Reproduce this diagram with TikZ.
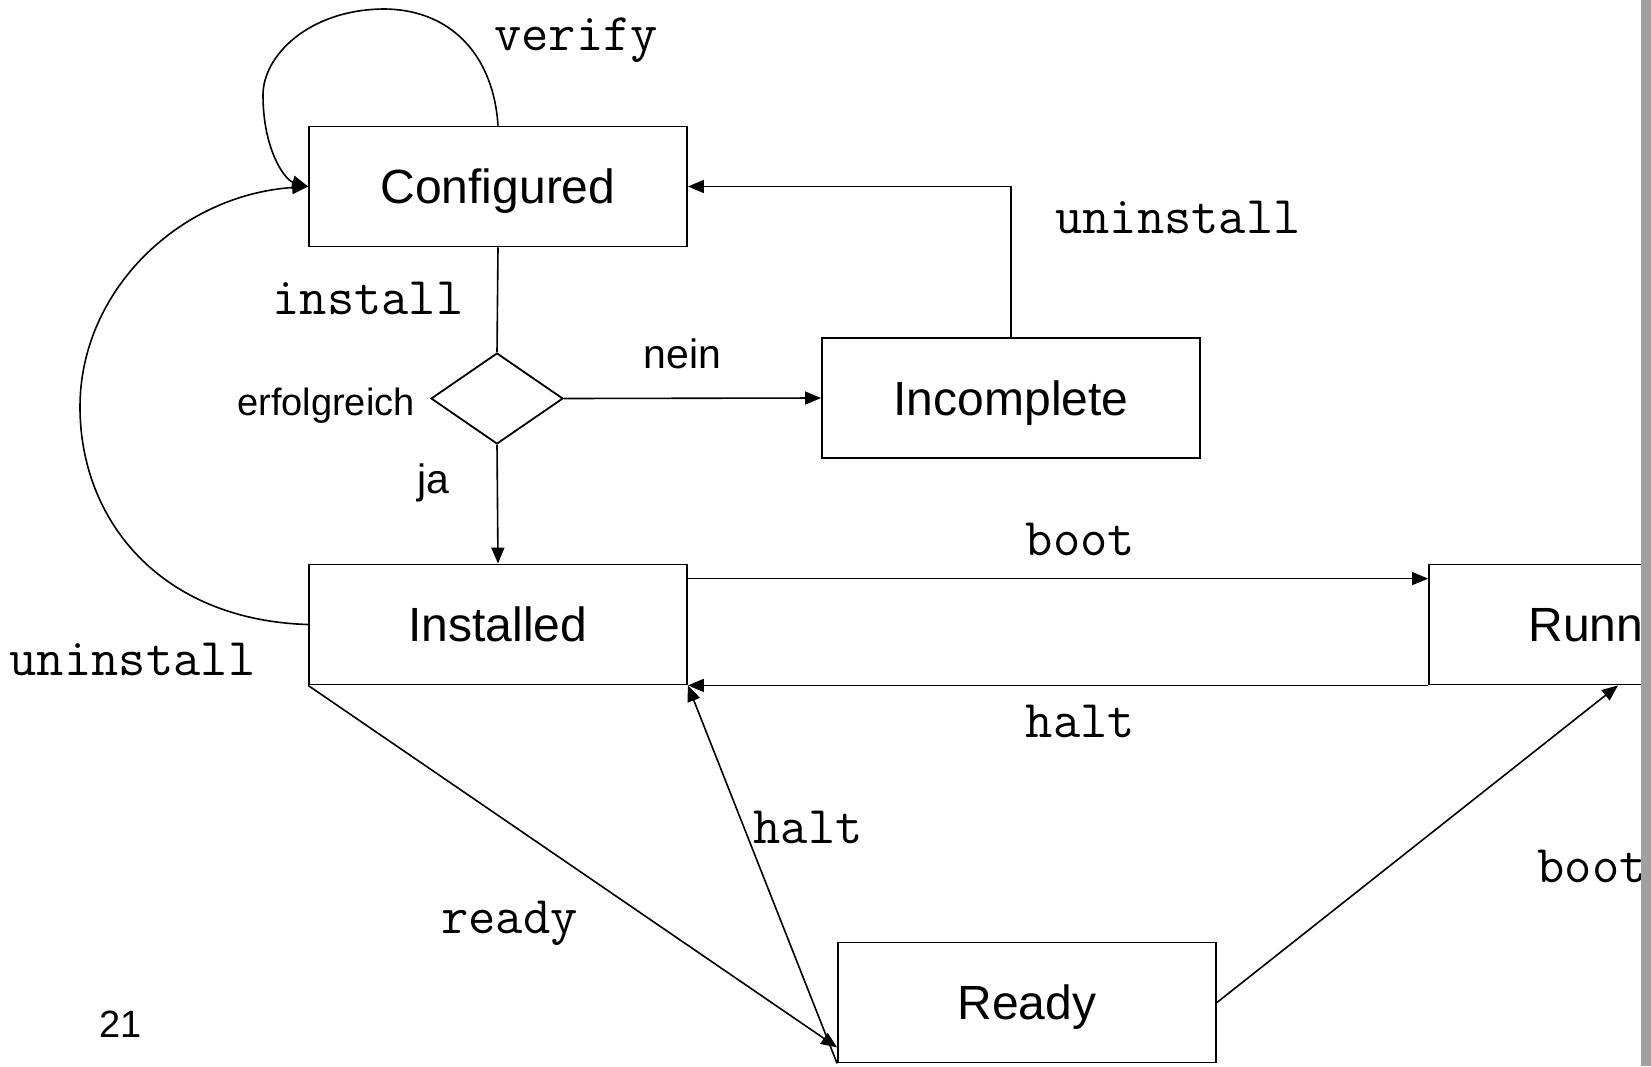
\documentclass[tikz,border=0pt]{standalone}
\usepackage{fontspec}
\setmainfont{Liberation Sans}
\usetikzlibrary{arrows.meta,shapes.geometric}
\tikzset{
  state/.style={draw, line width=1.8pt, minimum width=378pt, minimum height=120pt, inner sep=0pt,
    font=\fontsize{48}{48}\selectfont, text height=34.4pt, text depth=0pt},
  decision/.style={draw, line width=1.8pt, shape=diamond, aspect=1.45, minimum width=132pt, minimum height=91pt, inner sep=0pt},
  conn/.style={line width=1.6pt},
  arr/.style={line width=1.6pt, -{Triangle[length=16pt,width=13pt]}},
  lbl/.style={font=\ttfamily\fontsize{53}{53}\selectfont, anchor=base, inner sep=0pt},
  slbl/.style={font=\fontsize{38}{38}\selectfont, anchor=base, inner sep=0pt},
  mlbl/.style={font=\fontsize{41}{41}\selectfont, anchor=base, inner sep=0pt},
}
\begin{document}
\begin{tikzpicture}[x=1pt,y=-1pt]
\useasboundingbox (0,0) rectangle (1651,1066);
\fill[white] (0,0) rectangle (1651,1066);
\begin{scope}
\clip (0,0) rectangle (1641,1066);
\node[state] (conf) at (498,186.5) {Configured};
\node[state] (incomp) at (1011,398) {Incomplete};
\node[state] (inst) at (498,624.5) {Installed};
\node[state] (run) at (1618,624.5) {Running};
\node[state] (ready) at (1027,1002.5) {Ready};
\node[decision] (dec) at (497,398.5) {};

\draw[conn] (conf.south) -- (dec.north);
\draw[arr] (dec.south) -- (inst.north);
\draw[arr] (dec.east) -- (incomp.west);
\draw[arr] (incomp.north) |- (conf.east);
\draw[arr] ([yshift=-15pt]inst.north east) -- ([yshift=-15pt]inst.north east -| run.west);
\draw[arr] (run.south west) -- (inst.south east);
\draw[arr] (ready.south west) -- (inst.south east);
\draw[arr] (inst.south west) -- ([yshift=16pt]ready.south west);
\draw[arr] (ready.east) -- (run.south);
\draw[arr] (conf.north) .. controls (494,60) and (455,10) .. (385,9)
   .. controls (310,9) and (263,55) .. (263,95)
   .. controls (263,150) and (285,180) .. (conf.west);
\draw[arr] (inst.west) .. controls (160,620) and (80,520) .. (80,407)
   .. controls (80,290) and (180,195) .. (conf.west);

\node[lbl] (lverify) at (576,50) {verify};
\node[lbl] (lunin1) at (1178,233) {uninstall};
\node[lbl] (linstall) at (368,314) {install};
\node[slbl] (lerf) at (326,415) {erfolgreich};
\node[mlbl] (lnein) at (682.5,368) {nein};
\node[mlbl] (lja) at (433.5,493) {ja};
\node[lbl] (lboot1) at (1080.5,555) {boot};
\node[lbl] (lhalt1) at (1080.5,737) {halt};
\node[lbl] (lunin2) at (132.5,675) {uninstall};
\node[lbl] (lready) at (509.5,933) {ready};
\node[lbl] (lhalt2) at (808,843) {halt};
\node[lbl] (lboot2) at (1592,882) {boot};
\node[slbl] (lnum) at (121,1037) {21};
\end{scope}
\fill[fill={rgb,255:red,160;green,160;blue,160}] (1641,0) rectangle (1651,1066);
\end{tikzpicture}
\end{document}
